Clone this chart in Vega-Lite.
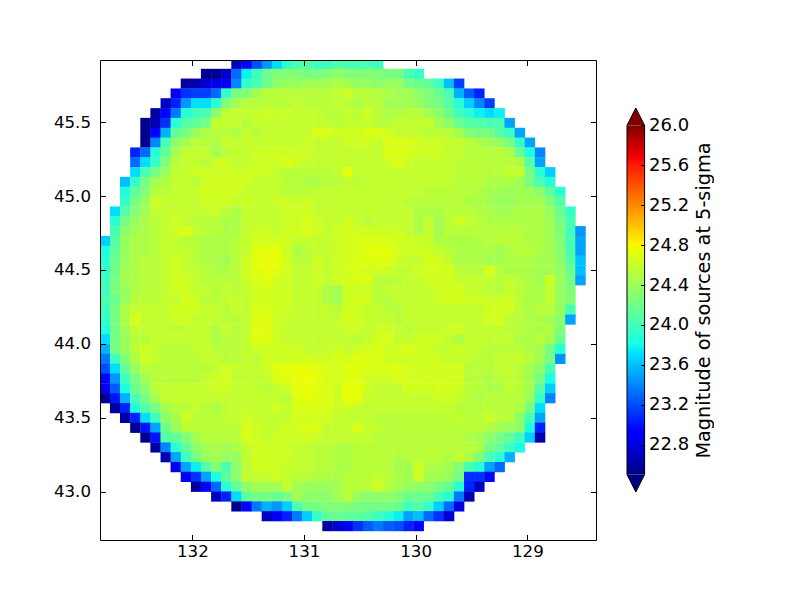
{"$schema":"https://vega.github.io/schema/vega-lite/v6.json","background":"white","padding":{"left":53,"top":59,"right":0,"bottom":0},"spacing":31,"bounds":"flush","center":true,"config":{"font":"DejaVu Sans","view":{"stroke":null},"axis":{"grid":false,"labelFont":"DejaVu Sans","titleFont":"DejaVu Sans","labelFontSize":16.67,"labelColor":"black","domainColor":"black","tickColor":"black","titleColor":"black"}},"datasets":{"cols":[{"c":0,"x":132.782},{"c":1,"x":132.691},{"c":2,"x":132.601},{"c":3,"x":132.51},{"c":4,"x":132.419},{"c":5,"x":132.329},{"c":6,"x":132.238},{"c":7,"x":132.148},{"c":8,"x":132.057},{"c":9,"x":131.966},{"c":10,"x":131.876},{"c":11,"x":131.785},{"c":12,"x":131.695},{"c":13,"x":131.604},{"c":14,"x":131.513},{"c":15,"x":131.423},{"c":16,"x":131.332},{"c":17,"x":131.242},{"c":18,"x":131.151},{"c":19,"x":131.06},{"c":20,"x":130.97},{"c":21,"x":130.879},{"c":22,"x":130.789},{"c":23,"x":130.698},{"c":24,"x":130.607},{"c":25,"x":130.517},{"c":26,"x":130.426},{"c":27,"x":130.336},{"c":28,"x":130.245},{"c":29,"x":130.154},{"c":30,"x":130.064},{"c":31,"x":129.973},{"c":32,"x":129.883},{"c":33,"x":129.792},{"c":34,"x":129.701},{"c":35,"x":129.611},{"c":36,"x":129.52},{"c":37,"x":129.43},{"c":38,"x":129.339},{"c":39,"x":129.248},{"c":40,"x":129.158},{"c":41,"x":129.067},{"c":42,"x":128.977},{"c":43,"x":128.886},{"c":44,"x":128.795},{"c":45,"x":128.705},{"c":46,"x":128.614},{"c":47,"x":128.524}],"rows":[{"r":0,"y":45.893},{"r":1,"y":45.826},{"r":2,"y":45.76},{"r":3,"y":45.693},{"r":4,"y":45.627},{"r":5,"y":45.56},{"r":6,"y":45.494},{"r":7,"y":45.427},{"r":8,"y":45.361},{"r":9,"y":45.294},{"r":10,"y":45.228},{"r":11,"y":45.161},{"r":12,"y":45.095},{"r":13,"y":45.028},{"r":14,"y":44.962},{"r":15,"y":44.895},{"r":16,"y":44.829},{"r":17,"y":44.762},{"r":18,"y":44.696},{"r":19,"y":44.629},{"r":20,"y":44.563},{"r":21,"y":44.496},{"r":22,"y":44.43},{"r":23,"y":44.363},{"r":24,"y":44.297},{"r":25,"y":44.23},{"r":26,"y":44.164},{"r":27,"y":44.097},{"r":28,"y":44.031},{"r":29,"y":43.964},{"r":30,"y":43.898},{"r":31,"y":43.831},{"r":32,"y":43.765},{"r":33,"y":43.698},{"r":34,"y":43.632},{"r":35,"y":43.565},{"r":36,"y":43.499},{"r":37,"y":43.432},{"r":38,"y":43.366},{"r":39,"y":43.299},{"r":40,"y":43.233},{"r":41,"y":43.166},{"r":42,"y":43.1},{"r":43,"y":43.033},{"r":44,"y":42.967},{"r":45,"y":42.9},{"r":46,"y":42.834},{"r":47,"y":42.767}],"cells":[
{"c":13,"r":0,"m":22.7},{"c":14,"r":0,"m":22.95},{"c":15,"r":0,"m":23.2},{"c":16,"r":0,"m":23.45},{"c":17,"r":0,"m":23.7},{"c":18,"r":0,"m":23.9},{"c":19,"r":0,"m":24.0},{"c":20,"r":0,"m":24.05},{"c":21,"r":0,"m":23.95},{"c":22,"r":0,"m":23.95},{"c":23,"r":0,"m":24.05},{"c":24,"r":0,"m":24.0},{"c":25,"r":0,"m":24.0},{"c":26,"r":0,"m":24.0},{"c":27,"r":0,"m":23.95},
{"c":10,"r":1,"m":22.55},{"c":11,"r":1,"m":22.55},{"c":12,"r":1,"m":22.7},{"c":13,"r":1,"m":23.3},{"c":14,"r":1,"m":23.75},{"c":15,"r":1,"m":23.95},{"c":16,"r":1,"m":24.15},{"c":17,"r":1,"m":24.25},{"c":18,"r":1,"m":24.25},{"c":19,"r":1,"m":24.25},{"c":20,"r":1,"m":24.2},{"c":21,"r":1,"m":24.2},{"c":22,"r":1,"m":24.25},{"c":23,"r":1,"m":24.3},{"c":24,"r":1,"m":24.25},{"c":25,"r":1,"m":24.25},{"c":26,"r":1,"m":24.25},{"c":27,"r":1,"m":24.25},{"c":28,"r":1,"m":24.2},{"c":29,"r":1,"m":24.2},{"c":30,"r":1,"m":24.0},{"c":31,"r":1,"m":23.9},
{"c":8,"r":2,"m":22.6},{"c":9,"r":2,"m":22.65},{"c":10,"r":2,"m":22.75},{"c":11,"r":2,"m":22.8},{"c":12,"r":2,"m":22.85},{"c":13,"r":2,"m":23.4},{"c":14,"r":2,"m":23.9},{"c":15,"r":2,"m":24.0},{"c":16,"r":2,"m":24.15},{"c":17,"r":2,"m":24.3},{"c":18,"r":2,"m":24.35},{"c":19,"r":2,"m":24.35},{"c":20,"r":2,"m":24.4},{"c":21,"r":2,"m":24.4},{"c":22,"r":2,"m":24.4},{"c":23,"r":2,"m":24.45},{"c":24,"r":2,"m":24.4},{"c":25,"r":2,"m":24.35},{"c":26,"r":2,"m":24.35},{"c":27,"r":2,"m":24.3},{"c":28,"r":2,"m":24.35},{"c":29,"r":2,"m":24.35},{"c":30,"r":2,"m":24.2},{"c":31,"r":2,"m":24.15},{"c":32,"r":2,"m":24.1},{"c":33,"r":2,"m":23.95},{"c":34,"r":2,"m":23.6},{"c":35,"r":2,"m":23.15},
{"c":7,"r":3,"m":22.85},{"c":8,"r":3,"m":23.1},{"c":9,"r":3,"m":23.15},{"c":10,"r":3,"m":23.15},{"c":11,"r":3,"m":23.3},{"c":12,"r":3,"m":23.9},{"c":13,"r":3,"m":24.2},{"c":14,"r":3,"m":24.25},{"c":15,"r":3,"m":24.4},{"c":16,"r":3,"m":24.5},{"c":17,"r":3,"m":24.5},{"c":18,"r":3,"m":24.5},{"c":19,"r":3,"m":24.5},{"c":20,"r":3,"m":24.5},{"c":21,"r":3,"m":24.5},{"c":22,"r":3,"m":24.5},{"c":23,"r":3,"m":24.55},{"c":24,"r":3,"m":24.6},{"c":25,"r":3,"m":24.5},{"c":26,"r":3,"m":24.5},{"c":27,"r":3,"m":24.5},{"c":28,"r":3,"m":24.45},{"c":29,"r":3,"m":24.4},{"c":30,"r":3,"m":24.4},{"c":31,"r":3,"m":24.3},{"c":32,"r":3,"m":24.25},{"c":33,"r":3,"m":24.15},{"c":34,"r":3,"m":24.0},{"c":35,"r":3,"m":23.55},{"c":36,"r":3,"m":23.25},{"c":37,"r":3,"m":23.05},
{"c":6,"r":4,"m":22.7},{"c":7,"r":4,"m":23.05},{"c":8,"r":4,"m":23.45},{"c":9,"r":4,"m":23.7},{"c":10,"r":4,"m":23.7},{"c":11,"r":4,"m":23.85},{"c":12,"r":4,"m":24.25},{"c":13,"r":4,"m":24.4},{"c":14,"r":4,"m":24.5},{"c":15,"r":4,"m":24.5},{"c":16,"r":4,"m":24.5},{"c":17,"r":4,"m":24.5},{"c":18,"r":4,"m":24.5},{"c":19,"r":4,"m":24.55},{"c":20,"r":4,"m":24.5},{"c":21,"r":4,"m":24.5},{"c":22,"r":4,"m":24.5},{"c":23,"r":4,"m":24.55},{"c":24,"r":4,"m":24.5},{"c":25,"r":4,"m":24.45},{"c":26,"r":4,"m":24.5},{"c":27,"r":4,"m":24.5},{"c":28,"r":4,"m":24.4},{"c":29,"r":4,"m":24.4},{"c":30,"r":4,"m":24.4},{"c":31,"r":4,"m":24.35},{"c":32,"r":4,"m":24.25},{"c":33,"r":4,"m":24.2},{"c":34,"r":4,"m":24.05},{"c":35,"r":4,"m":23.85},{"c":36,"r":4,"m":23.65},{"c":37,"r":4,"m":23.4},{"c":38,"r":4,"m":23.15},
{"c":5,"r":5,"m":22.6},{"c":6,"r":5,"m":22.9},{"c":7,"r":5,"m":23.35},{"c":8,"r":5,"m":23.85},{"c":9,"r":5,"m":23.95},{"c":10,"r":5,"m":24.0},{"c":11,"r":5,"m":24.3},{"c":12,"r":5,"m":24.5},{"c":13,"r":5,"m":24.55},{"c":14,"r":5,"m":24.55},{"c":15,"r":5,"m":24.55},{"c":16,"r":5,"m":24.6},{"c":17,"r":5,"m":24.55},{"c":18,"r":5,"m":24.6},{"c":19,"r":5,"m":24.55},{"c":20,"r":5,"m":24.55},{"c":21,"r":5,"m":24.55},{"c":22,"r":5,"m":24.5},{"c":23,"r":5,"m":24.5},{"c":24,"r":5,"m":24.55},{"c":25,"r":5,"m":24.5},{"c":26,"r":5,"m":24.6},{"c":27,"r":5,"m":24.5},{"c":28,"r":5,"m":24.45},{"c":29,"r":5,"m":24.45},{"c":30,"r":5,"m":24.5},{"c":31,"r":5,"m":24.5},{"c":32,"r":5,"m":24.4},{"c":33,"r":5,"m":24.3},{"c":34,"r":5,"m":24.15},{"c":35,"r":5,"m":23.95},{"c":36,"r":5,"m":23.85},{"c":37,"r":5,"m":23.75},{"c":38,"r":5,"m":23.7},{"c":39,"r":5,"m":23.75},
{"c":4,"r":6,"m":22.55},{"c":5,"r":6,"m":22.65},{"c":6,"r":6,"m":23.1},{"c":7,"r":6,"m":23.85},{"c":8,"r":6,"m":24.05},{"c":9,"r":6,"m":24.1},{"c":10,"r":6,"m":24.2},{"c":11,"r":6,"m":24.55},{"c":12,"r":6,"m":24.55},{"c":13,"r":6,"m":24.55},{"c":14,"r":6,"m":24.5},{"c":15,"r":6,"m":24.55},{"c":16,"r":6,"m":24.55},{"c":17,"r":6,"m":24.55},{"c":18,"r":6,"m":24.55},{"c":19,"r":6,"m":24.55},{"c":20,"r":6,"m":24.55},{"c":21,"r":6,"m":24.55},{"c":22,"r":6,"m":24.55},{"c":23,"r":6,"m":24.5},{"c":24,"r":6,"m":24.55},{"c":25,"r":6,"m":24.55},{"c":26,"r":6,"m":24.55},{"c":27,"r":6,"m":24.5},{"c":28,"r":6,"m":24.5},{"c":29,"r":6,"m":24.55},{"c":30,"r":6,"m":24.55},{"c":31,"r":6,"m":24.55},{"c":32,"r":6,"m":24.55},{"c":33,"r":6,"m":24.4},{"c":34,"r":6,"m":24.3},{"c":35,"r":6,"m":24.15},{"c":36,"r":6,"m":24.05},{"c":37,"r":6,"m":24.05},{"c":38,"r":6,"m":24.0},{"c":39,"r":6,"m":24.0},{"c":40,"r":6,"m":23.5},
{"c":4,"r":7,"m":22.55},{"c":5,"r":7,"m":22.9},{"c":6,"r":7,"m":23.55},{"c":7,"r":7,"m":24.1},{"c":8,"r":7,"m":24.2},{"c":9,"r":7,"m":24.35},{"c":10,"r":7,"m":24.45},{"c":11,"r":7,"m":24.5},{"c":12,"r":7,"m":24.5},{"c":13,"r":7,"m":24.45},{"c":14,"r":7,"m":24.55},{"c":15,"r":7,"m":24.5},{"c":16,"r":7,"m":24.55},{"c":17,"r":7,"m":24.55},{"c":18,"r":7,"m":24.55},{"c":19,"r":7,"m":24.55},{"c":20,"r":7,"m":24.55},{"c":21,"r":7,"m":24.65},{"c":22,"r":7,"m":24.65},{"c":23,"r":7,"m":24.6},{"c":24,"r":7,"m":24.6},{"c":25,"r":7,"m":24.6},{"c":26,"r":7,"m":24.65},{"c":27,"r":7,"m":24.65},{"c":28,"r":7,"m":24.6},{"c":29,"r":7,"m":24.55},{"c":30,"r":7,"m":24.55},{"c":31,"r":7,"m":24.55},{"c":32,"r":7,"m":24.5},{"c":33,"r":7,"m":24.5},{"c":34,"r":7,"m":24.5},{"c":35,"r":7,"m":24.4},{"c":36,"r":7,"m":24.25},{"c":37,"r":7,"m":24.2},{"c":38,"r":7,"m":24.2},{"c":39,"r":7,"m":24.05},{"c":40,"r":7,"m":23.95},{"c":41,"r":7,"m":23.5},
{"c":4,"r":8,"m":22.55},{"c":5,"r":8,"m":23.4},{"c":6,"r":8,"m":24.0},{"c":7,"r":8,"m":24.3},{"c":8,"r":8,"m":24.4},{"c":9,"r":8,"m":24.5},{"c":10,"r":8,"m":24.5},{"c":11,"r":8,"m":24.45},{"c":12,"r":8,"m":24.55},{"c":13,"r":8,"m":24.55},{"c":14,"r":8,"m":24.55},{"c":15,"r":8,"m":24.55},{"c":16,"r":8,"m":24.55},{"c":17,"r":8,"m":24.55},{"c":18,"r":8,"m":24.55},{"c":19,"r":8,"m":24.55},{"c":20,"r":8,"m":24.6},{"c":21,"r":8,"m":24.55},{"c":22,"r":8,"m":24.55},{"c":23,"r":8,"m":24.55},{"c":24,"r":8,"m":24.6},{"c":25,"r":8,"m":24.6},{"c":26,"r":8,"m":24.6},{"c":27,"r":8,"m":24.55},{"c":28,"r":8,"m":24.65},{"c":29,"r":8,"m":24.65},{"c":30,"r":8,"m":24.65},{"c":31,"r":8,"m":24.6},{"c":32,"r":8,"m":24.6},{"c":33,"r":8,"m":24.6},{"c":34,"r":8,"m":24.55},{"c":35,"r":8,"m":24.55},{"c":36,"r":8,"m":24.5},{"c":37,"r":8,"m":24.45},{"c":38,"r":8,"m":24.4},{"c":39,"r":8,"m":24.35},{"c":40,"r":8,"m":24.2},{"c":41,"r":8,"m":23.9},{"c":42,"r":8,"m":23.5},
{"c":3,"r":9,"m":23.05},{"c":4,"r":9,"m":23.3},{"c":5,"r":9,"m":23.85},{"c":6,"r":9,"m":24.1},{"c":7,"r":9,"m":24.4},{"c":8,"r":9,"m":24.55},{"c":9,"r":9,"m":24.55},{"c":10,"r":9,"m":24.55},{"c":11,"r":9,"m":24.4},{"c":12,"r":9,"m":24.5},{"c":13,"r":9,"m":24.55},{"c":14,"r":9,"m":24.55},{"c":15,"r":9,"m":24.6},{"c":16,"r":9,"m":24.6},{"c":17,"r":9,"m":24.6},{"c":18,"r":9,"m":24.6},{"c":19,"r":9,"m":24.6},{"c":20,"r":9,"m":24.6},{"c":21,"r":9,"m":24.55},{"c":22,"r":9,"m":24.55},{"c":23,"r":9,"m":24.55},{"c":24,"r":9,"m":24.55},{"c":25,"r":9,"m":24.55},{"c":26,"r":9,"m":24.55},{"c":27,"r":9,"m":24.55},{"c":28,"r":9,"m":24.65},{"c":29,"r":9,"m":24.65},{"c":30,"r":9,"m":24.65},{"c":31,"r":9,"m":24.6},{"c":32,"r":9,"m":24.6},{"c":33,"r":9,"m":24.6},{"c":34,"r":9,"m":24.55},{"c":35,"r":9,"m":24.55},{"c":36,"r":9,"m":24.5},{"c":37,"r":9,"m":24.5},{"c":38,"r":9,"m":24.5},{"c":39,"r":9,"m":24.5},{"c":40,"r":9,"m":24.45},{"c":41,"r":9,"m":24.15},{"c":42,"r":9,"m":23.8},{"c":43,"r":9,"m":23.4},
{"c":3,"r":10,"m":23.3},{"c":4,"r":10,"m":23.7},{"c":5,"r":10,"m":23.9},{"c":6,"r":10,"m":24.25},{"c":7,"r":10,"m":24.5},{"c":8,"r":10,"m":24.55},{"c":9,"r":10,"m":24.55},{"c":10,"r":10,"m":24.5},{"c":11,"r":10,"m":24.6},{"c":12,"r":10,"m":24.6},{"c":13,"r":10,"m":24.55},{"c":14,"r":10,"m":24.55},{"c":15,"r":10,"m":24.6},{"c":16,"r":10,"m":24.6},{"c":17,"r":10,"m":24.6},{"c":18,"r":10,"m":24.65},{"c":19,"r":10,"m":24.6},{"c":20,"r":10,"m":24.55},{"c":21,"r":10,"m":24.55},{"c":22,"r":10,"m":24.55},{"c":23,"r":10,"m":24.55},{"c":24,"r":10,"m":24.55},{"c":25,"r":10,"m":24.55},{"c":26,"r":10,"m":24.55},{"c":27,"r":10,"m":24.55},{"c":28,"r":10,"m":24.6},{"c":29,"r":10,"m":24.65},{"c":30,"r":10,"m":24.6},{"c":31,"r":10,"m":24.55},{"c":32,"r":10,"m":24.55},{"c":33,"r":10,"m":24.55},{"c":34,"r":10,"m":24.55},{"c":35,"r":10,"m":24.5},{"c":36,"r":10,"m":24.5},{"c":37,"r":10,"m":24.5},{"c":38,"r":10,"m":24.5},{"c":39,"r":10,"m":24.5},{"c":40,"r":10,"m":24.5},{"c":41,"r":10,"m":24.45},{"c":42,"r":10,"m":24.05},{"c":43,"r":10,"m":23.5},
{"c":3,"r":11,"m":23.7},{"c":4,"r":11,"m":24.0},{"c":5,"r":11,"m":24.2},{"c":6,"r":11,"m":24.35},{"c":7,"r":11,"m":24.55},{"c":8,"r":11,"m":24.55},{"c":9,"r":11,"m":24.6},{"c":10,"r":11,"m":24.6},{"c":11,"r":11,"m":24.6},{"c":12,"r":11,"m":24.6},{"c":13,"r":11,"m":24.6},{"c":14,"r":11,"m":24.6},{"c":15,"r":11,"m":24.6},{"c":16,"r":11,"m":24.6},{"c":17,"r":11,"m":24.55},{"c":18,"r":11,"m":24.5},{"c":19,"r":11,"m":24.5},{"c":20,"r":11,"m":24.5},{"c":21,"r":11,"m":24.5},{"c":22,"r":11,"m":24.5},{"c":23,"r":11,"m":24.55},{"c":24,"r":11,"m":24.7},{"c":25,"r":11,"m":24.55},{"c":26,"r":11,"m":24.55},{"c":27,"r":11,"m":24.55},{"c":28,"r":11,"m":24.55},{"c":29,"r":11,"m":24.55},{"c":30,"r":11,"m":24.55},{"c":31,"r":11,"m":24.55},{"c":32,"r":11,"m":24.55},{"c":33,"r":11,"m":24.55},{"c":34,"r":11,"m":24.55},{"c":35,"r":11,"m":24.5},{"c":36,"r":11,"m":24.5},{"c":37,"r":11,"m":24.5},{"c":38,"r":11,"m":24.5},{"c":39,"r":11,"m":24.5},{"c":40,"r":11,"m":24.55},{"c":41,"r":11,"m":24.55},{"c":42,"r":11,"m":24.2},{"c":43,"r":11,"m":23.85},{"c":44,"r":11,"m":23.65},
{"c":2,"r":12,"m":23.6},{"c":3,"r":12,"m":23.9},{"c":4,"r":12,"m":24.2},{"c":5,"r":12,"m":24.4},{"c":6,"r":12,"m":24.45},{"c":7,"r":12,"m":24.55},{"c":8,"r":12,"m":24.55},{"c":9,"r":12,"m":24.5},{"c":10,"r":12,"m":24.6},{"c":11,"r":12,"m":24.6},{"c":12,"r":12,"m":24.62},{"c":13,"r":12,"m":24.62},{"c":14,"r":12,"m":24.6},{"c":15,"r":12,"m":24.55},{"c":16,"r":12,"m":24.55},{"c":17,"r":12,"m":24.55},{"c":18,"r":12,"m":24.5},{"c":19,"r":12,"m":24.5},{"c":20,"r":12,"m":24.45},{"c":21,"r":12,"m":24.45},{"c":22,"r":12,"m":24.5},{"c":23,"r":12,"m":24.5},{"c":24,"r":12,"m":24.55},{"c":25,"r":12,"m":24.5},{"c":26,"r":12,"m":24.55},{"c":27,"r":12,"m":24.55},{"c":28,"r":12,"m":24.55},{"c":29,"r":12,"m":24.55},{"c":30,"r":12,"m":24.55},{"c":31,"r":12,"m":24.55},{"c":32,"r":12,"m":24.55},{"c":33,"r":12,"m":24.55},{"c":34,"r":12,"m":24.55},{"c":35,"r":12,"m":24.5},{"c":36,"r":12,"m":24.5},{"c":37,"r":12,"m":24.5},{"c":38,"r":12,"m":24.45},{"c":39,"r":12,"m":24.45},{"c":40,"r":12,"m":24.45},{"c":41,"r":12,"m":24.4},{"c":42,"r":12,"m":24.2},{"c":43,"r":12,"m":24.0},{"c":44,"r":12,"m":23.85},
{"c":2,"r":13,"m":23.8},{"c":3,"r":13,"m":24.1},{"c":4,"r":13,"m":24.25},{"c":5,"r":13,"m":24.5},{"c":6,"r":13,"m":24.5},{"c":7,"r":13,"m":24.55},{"c":8,"r":13,"m":24.55},{"c":9,"r":13,"m":24.55},{"c":10,"r":13,"m":24.62},{"c":11,"r":13,"m":24.62},{"c":12,"r":13,"m":24.62},{"c":13,"r":13,"m":24.6},{"c":14,"r":13,"m":24.55},{"c":15,"r":13,"m":24.55},{"c":16,"r":13,"m":24.55},{"c":17,"r":13,"m":24.55},{"c":18,"r":13,"m":24.5},{"c":19,"r":13,"m":24.5},{"c":20,"r":13,"m":24.5},{"c":21,"r":13,"m":24.55},{"c":22,"r":13,"m":24.55},{"c":23,"r":13,"m":24.55},{"c":24,"r":13,"m":24.55},{"c":25,"r":13,"m":24.55},{"c":26,"r":13,"m":24.55},{"c":27,"r":13,"m":24.55},{"c":28,"r":13,"m":24.55},{"c":29,"r":13,"m":24.55},{"c":30,"r":13,"m":24.55},{"c":31,"r":13,"m":24.55},{"c":32,"r":13,"m":24.5},{"c":33,"r":13,"m":24.5},{"c":34,"r":13,"m":24.5},{"c":35,"r":13,"m":24.5},{"c":36,"r":13,"m":24.5},{"c":37,"r":13,"m":24.45},{"c":38,"r":13,"m":24.4},{"c":39,"r":13,"m":24.4},{"c":40,"r":13,"m":24.35},{"c":41,"r":13,"m":24.4},{"c":42,"r":13,"m":24.35},{"c":43,"r":13,"m":24.3},{"c":44,"r":13,"m":24.1},{"c":45,"r":13,"m":23.85},
{"c":2,"r":14,"m":23.9},{"c":3,"r":14,"m":24.2},{"c":4,"r":14,"m":24.35},{"c":5,"r":14,"m":24.6},{"c":6,"r":14,"m":24.55},{"c":7,"r":14,"m":24.55},{"c":8,"r":14,"m":24.55},{"c":9,"r":14,"m":24.55},{"c":10,"r":14,"m":24.6},{"c":11,"r":14,"m":24.6},{"c":12,"r":14,"m":24.62},{"c":13,"r":14,"m":24.55},{"c":14,"r":14,"m":24.6},{"c":15,"r":14,"m":24.55},{"c":16,"r":14,"m":24.55},{"c":17,"r":14,"m":24.6},{"c":18,"r":14,"m":24.6},{"c":19,"r":14,"m":24.55},{"c":20,"r":14,"m":24.6},{"c":21,"r":14,"m":24.55},{"c":22,"r":14,"m":24.55},{"c":23,"r":14,"m":24.55},{"c":24,"r":14,"m":24.55},{"c":25,"r":14,"m":24.55},{"c":26,"r":14,"m":24.55},{"c":27,"r":14,"m":24.55},{"c":28,"r":14,"m":24.55},{"c":29,"r":14,"m":24.55},{"c":30,"r":14,"m":24.5},{"c":31,"r":14,"m":24.5},{"c":32,"r":14,"m":24.5},{"c":33,"r":14,"m":24.5},{"c":34,"r":14,"m":24.5},{"c":35,"r":14,"m":24.5},{"c":36,"r":14,"m":24.45},{"c":37,"r":14,"m":24.45},{"c":38,"r":14,"m":24.4},{"c":39,"r":14,"m":24.35},{"c":40,"r":14,"m":24.35},{"c":41,"r":14,"m":24.4},{"c":42,"r":14,"m":24.4},{"c":43,"r":14,"m":24.4},{"c":44,"r":14,"m":24.25},{"c":45,"r":14,"m":24.05},
{"c":1,"r":15,"m":23.7},{"c":2,"r":15,"m":24.05},{"c":3,"r":15,"m":24.25},{"c":4,"r":15,"m":24.4},{"c":5,"r":15,"m":24.55},{"c":6,"r":15,"m":24.55},{"c":7,"r":15,"m":24.55},{"c":8,"r":15,"m":24.55},{"c":9,"r":15,"m":24.55},{"c":10,"r":15,"m":24.55},{"c":11,"r":15,"m":24.6},{"c":12,"r":15,"m":24.5},{"c":13,"r":15,"m":24.45},{"c":14,"r":15,"m":24.55},{"c":15,"r":15,"m":24.55},{"c":16,"r":15,"m":24.55},{"c":17,"r":15,"m":24.55},{"c":18,"r":15,"m":24.6},{"c":19,"r":15,"m":24.6},{"c":20,"r":15,"m":24.6},{"c":21,"r":15,"m":24.55},{"c":22,"r":15,"m":24.55},{"c":23,"r":15,"m":24.55},{"c":24,"r":15,"m":24.55},{"c":25,"r":15,"m":24.55},{"c":26,"r":15,"m":24.55},{"c":27,"r":15,"m":24.55},{"c":28,"r":15,"m":24.55},{"c":29,"r":15,"m":24.55},{"c":30,"r":15,"m":24.55},{"c":31,"r":15,"m":24.45},{"c":32,"r":15,"m":24.45},{"c":33,"r":15,"m":24.45},{"c":34,"r":15,"m":24.5},{"c":35,"r":15,"m":24.5},{"c":36,"r":15,"m":24.5},{"c":37,"r":15,"m":24.45},{"c":38,"r":15,"m":24.45},{"c":39,"r":15,"m":24.4},{"c":40,"r":15,"m":24.4},{"c":41,"r":15,"m":24.45},{"c":42,"r":15,"m":24.45},{"c":43,"r":15,"m":24.45},{"c":44,"r":15,"m":24.35},{"c":45,"r":15,"m":24.15},{"c":46,"r":15,"m":23.9},
{"c":1,"r":16,"m":23.85},{"c":2,"r":16,"m":24.2},{"c":3,"r":16,"m":24.35},{"c":4,"r":16,"m":24.45},{"c":5,"r":16,"m":24.5},{"c":6,"r":16,"m":24.55},{"c":7,"r":16,"m":24.6},{"c":8,"r":16,"m":24.55},{"c":9,"r":16,"m":24.5},{"c":10,"r":16,"m":24.5},{"c":11,"r":16,"m":24.5},{"c":12,"r":16,"m":24.45},{"c":13,"r":16,"m":24.45},{"c":14,"r":16,"m":24.55},{"c":15,"r":16,"m":24.55},{"c":16,"r":16,"m":24.55},{"c":17,"r":16,"m":24.55},{"c":18,"r":16,"m":24.6},{"c":19,"r":16,"m":24.6},{"c":20,"r":16,"m":24.65},{"c":21,"r":16,"m":24.6},{"c":22,"r":16,"m":24.55},{"c":23,"r":16,"m":24.55},{"c":24,"r":16,"m":24.62},{"c":25,"r":16,"m":24.55},{"c":26,"r":16,"m":24.5},{"c":27,"r":16,"m":24.55},{"c":28,"r":16,"m":24.55},{"c":29,"r":16,"m":24.55},{"c":30,"r":16,"m":24.55},{"c":31,"r":16,"m":24.45},{"c":32,"r":16,"m":24.55},{"c":33,"r":16,"m":24.4},{"c":34,"r":16,"m":24.5},{"c":35,"r":16,"m":24.6},{"c":36,"r":16,"m":24.55},{"c":37,"r":16,"m":24.5},{"c":38,"r":16,"m":24.45},{"c":39,"r":16,"m":24.45},{"c":40,"r":16,"m":24.45},{"c":41,"r":16,"m":24.45},{"c":42,"r":16,"m":24.45},{"c":43,"r":16,"m":24.45},{"c":44,"r":16,"m":24.4},{"c":45,"r":16,"m":24.2},{"c":46,"r":16,"m":24.0},
{"c":1,"r":17,"m":24.0},{"c":2,"r":17,"m":24.3},{"c":3,"r":17,"m":24.4},{"c":4,"r":17,"m":24.45},{"c":5,"r":17,"m":24.5},{"c":6,"r":17,"m":24.55},{"c":7,"r":17,"m":24.6},{"c":8,"r":17,"m":24.65},{"c":9,"r":17,"m":24.55},{"c":10,"r":17,"m":24.5},{"c":11,"r":17,"m":24.5},{"c":12,"r":17,"m":24.45},{"c":13,"r":17,"m":24.45},{"c":14,"r":17,"m":24.55},{"c":15,"r":17,"m":24.6},{"c":16,"r":17,"m":24.6},{"c":17,"r":17,"m":24.55},{"c":18,"r":17,"m":24.6},{"c":19,"r":17,"m":24.6},{"c":20,"r":17,"m":24.65},{"c":21,"r":17,"m":24.6},{"c":22,"r":17,"m":24.55},{"c":23,"r":17,"m":24.6},{"c":24,"r":17,"m":24.62},{"c":25,"r":17,"m":24.62},{"c":26,"r":17,"m":24.6},{"c":27,"r":17,"m":24.6},{"c":28,"r":17,"m":24.6},{"c":29,"r":17,"m":24.6},{"c":30,"r":17,"m":24.55},{"c":31,"r":17,"m":24.45},{"c":32,"r":17,"m":24.55},{"c":33,"r":17,"m":24.4},{"c":34,"r":17,"m":24.5},{"c":35,"r":17,"m":24.5},{"c":36,"r":17,"m":24.5},{"c":37,"r":17,"m":24.5},{"c":38,"r":17,"m":24.5},{"c":39,"r":17,"m":24.5},{"c":40,"r":17,"m":24.5},{"c":41,"r":17,"m":24.5},{"c":42,"r":17,"m":24.45},{"c":43,"r":17,"m":24.45},{"c":44,"r":17,"m":24.4},{"c":45,"r":17,"m":24.25},{"c":46,"r":17,"m":23.95},{"c":47,"r":17,"m":23.45},
{"c":0,"r":18,"m":23.65},{"c":1,"r":18,"m":24.05},{"c":2,"r":18,"m":24.35},{"c":3,"r":18,"m":24.45},{"c":4,"r":18,"m":24.45},{"c":5,"r":18,"m":24.5},{"c":6,"r":18,"m":24.55},{"c":7,"r":18,"m":24.55},{"c":8,"r":18,"m":24.5},{"c":9,"r":18,"m":24.5},{"c":10,"r":18,"m":24.45},{"c":11,"r":18,"m":24.45},{"c":12,"r":18,"m":24.45},{"c":13,"r":18,"m":24.5},{"c":14,"r":18,"m":24.55},{"c":15,"r":18,"m":24.62},{"c":16,"r":18,"m":24.62},{"c":17,"r":18,"m":24.62},{"c":18,"r":18,"m":24.6},{"c":19,"r":18,"m":24.55},{"c":20,"r":18,"m":24.55},{"c":21,"r":18,"m":24.55},{"c":22,"r":18,"m":24.55},{"c":23,"r":18,"m":24.6},{"c":24,"r":18,"m":24.62},{"c":25,"r":18,"m":24.65},{"c":26,"r":18,"m":24.65},{"c":27,"r":18,"m":24.65},{"c":28,"r":18,"m":24.65},{"c":29,"r":18,"m":24.62},{"c":30,"r":18,"m":24.6},{"c":31,"r":18,"m":24.6},{"c":32,"r":18,"m":24.55},{"c":33,"r":18,"m":24.45},{"c":34,"r":18,"m":24.45},{"c":35,"r":18,"m":24.45},{"c":36,"r":18,"m":24.45},{"c":37,"r":18,"m":24.45},{"c":38,"r":18,"m":24.5},{"c":39,"r":18,"m":24.5},{"c":40,"r":18,"m":24.5},{"c":41,"r":18,"m":24.5},{"c":42,"r":18,"m":24.45},{"c":43,"r":18,"m":24.45},{"c":44,"r":18,"m":24.4},{"c":45,"r":18,"m":24.25},{"c":46,"r":18,"m":24.0},{"c":47,"r":18,"m":23.5},
{"c":0,"r":19,"m":23.8},{"c":1,"r":19,"m":24.1},{"c":2,"r":19,"m":24.35},{"c":3,"r":19,"m":24.45},{"c":4,"r":19,"m":24.45},{"c":5,"r":19,"m":24.5},{"c":6,"r":19,"m":24.55},{"c":7,"r":19,"m":24.55},{"c":8,"r":19,"m":24.55},{"c":9,"r":19,"m":24.5},{"c":10,"r":19,"m":24.45},{"c":11,"r":19,"m":24.45},{"c":12,"r":19,"m":24.45},{"c":13,"r":19,"m":24.5},{"c":14,"r":19,"m":24.55},{"c":15,"r":19,"m":24.68},{"c":16,"r":19,"m":24.7},{"c":17,"r":19,"m":24.7},{"c":18,"r":19,"m":24.6},{"c":19,"r":19,"m":24.45},{"c":20,"r":19,"m":24.5},{"c":21,"r":19,"m":24.55},{"c":22,"r":19,"m":24.55},{"c":23,"r":19,"m":24.6},{"c":24,"r":19,"m":24.62},{"c":25,"r":19,"m":24.65},{"c":26,"r":19,"m":24.68},{"c":27,"r":19,"m":24.72},{"c":28,"r":19,"m":24.7},{"c":29,"r":19,"m":24.62},{"c":30,"r":19,"m":24.6},{"c":31,"r":19,"m":24.6},{"c":32,"r":19,"m":24.6},{"c":33,"r":19,"m":24.55},{"c":34,"r":19,"m":24.5},{"c":35,"r":19,"m":24.45},{"c":36,"r":19,"m":24.45},{"c":37,"r":19,"m":24.45},{"c":38,"r":19,"m":24.45},{"c":39,"r":19,"m":24.4},{"c":40,"r":19,"m":24.45},{"c":41,"r":19,"m":24.5},{"c":42,"r":19,"m":24.5},{"c":43,"r":19,"m":24.45},{"c":44,"r":19,"m":24.4},{"c":45,"r":19,"m":24.3},{"c":46,"r":19,"m":24.0},{"c":47,"r":19,"m":23.5},
{"c":0,"r":20,"m":23.85},{"c":1,"r":20,"m":24.15},{"c":2,"r":20,"m":24.35},{"c":3,"r":20,"m":24.45},{"c":4,"r":20,"m":24.5},{"c":5,"r":20,"m":24.5},{"c":6,"r":20,"m":24.55},{"c":7,"r":20,"m":24.6},{"c":8,"r":20,"m":24.55},{"c":9,"r":20,"m":24.5},{"c":10,"r":20,"m":24.45},{"c":11,"r":20,"m":24.45},{"c":12,"r":20,"m":24.4},{"c":13,"r":20,"m":24.5},{"c":14,"r":20,"m":24.6},{"c":15,"r":20,"m":24.7},{"c":16,"r":20,"m":24.72},{"c":17,"r":20,"m":24.72},{"c":18,"r":20,"m":24.62},{"c":19,"r":20,"m":24.5},{"c":20,"r":20,"m":24.5},{"c":21,"r":20,"m":24.6},{"c":22,"r":20,"m":24.55},{"c":23,"r":20,"m":24.6},{"c":24,"r":20,"m":24.62},{"c":25,"r":20,"m":24.65},{"c":26,"r":20,"m":24.68},{"c":27,"r":20,"m":24.68},{"c":28,"r":20,"m":24.68},{"c":29,"r":20,"m":24.6},{"c":30,"r":20,"m":24.55},{"c":31,"r":20,"m":24.55},{"c":32,"r":20,"m":24.62},{"c":33,"r":20,"m":24.62},{"c":34,"r":20,"m":24.55},{"c":35,"r":20,"m":24.45},{"c":36,"r":20,"m":24.45},{"c":37,"r":20,"m":24.45},{"c":38,"r":20,"m":24.4},{"c":39,"r":20,"m":24.4},{"c":40,"r":20,"m":24.45},{"c":41,"r":20,"m":24.45},{"c":42,"r":20,"m":24.45},{"c":43,"r":20,"m":24.4},{"c":44,"r":20,"m":24.4},{"c":45,"r":20,"m":24.3},{"c":46,"r":20,"m":24.05},{"c":47,"r":20,"m":23.6},
{"c":0,"r":21,"m":23.9},{"c":1,"r":21,"m":24.15},{"c":2,"r":21,"m":24.4},{"c":3,"r":21,"m":24.45},{"c":4,"r":21,"m":24.5},{"c":5,"r":21,"m":24.5},{"c":6,"r":21,"m":24.55},{"c":7,"r":21,"m":24.62},{"c":8,"r":21,"m":24.55},{"c":9,"r":21,"m":24.55},{"c":10,"r":21,"m":24.5},{"c":11,"r":21,"m":24.45},{"c":12,"r":21,"m":24.45},{"c":13,"r":21,"m":24.5},{"c":14,"r":21,"m":24.6},{"c":15,"r":21,"m":24.68},{"c":16,"r":21,"m":24.72},{"c":17,"r":21,"m":24.68},{"c":18,"r":21,"m":24.62},{"c":19,"r":21,"m":24.55},{"c":20,"r":21,"m":24.55},{"c":21,"r":21,"m":24.6},{"c":22,"r":21,"m":24.55},{"c":23,"r":21,"m":24.6},{"c":24,"r":21,"m":24.62},{"c":25,"r":21,"m":24.65},{"c":26,"r":21,"m":24.62},{"c":27,"r":21,"m":24.62},{"c":28,"r":21,"m":24.6},{"c":29,"r":21,"m":24.55},{"c":30,"r":21,"m":24.55},{"c":31,"r":21,"m":24.6},{"c":32,"r":21,"m":24.62},{"c":33,"r":21,"m":24.62},{"c":34,"r":21,"m":24.62},{"c":35,"r":21,"m":24.5},{"c":36,"r":21,"m":24.5},{"c":37,"r":21,"m":24.5},{"c":38,"r":21,"m":24.65},{"c":39,"r":21,"m":24.5},{"c":40,"r":21,"m":24.45},{"c":41,"r":21,"m":24.45},{"c":42,"r":21,"m":24.45},{"c":43,"r":21,"m":24.4},{"c":44,"r":21,"m":24.4},{"c":45,"r":21,"m":24.35},{"c":46,"r":21,"m":24.15},{"c":47,"r":21,"m":23.6},
{"c":0,"r":22,"m":23.95},{"c":1,"r":22,"m":24.2},{"c":2,"r":22,"m":24.4},{"c":3,"r":22,"m":24.45},{"c":4,"r":22,"m":24.5},{"c":5,"r":22,"m":24.5},{"c":6,"r":22,"m":24.55},{"c":7,"r":22,"m":24.6},{"c":8,"r":22,"m":24.6},{"c":9,"r":22,"m":24.55},{"c":10,"r":22,"m":24.5},{"c":11,"r":22,"m":24.5},{"c":12,"r":22,"m":24.5},{"c":13,"r":22,"m":24.5},{"c":14,"r":22,"m":24.6},{"c":15,"r":22,"m":24.65},{"c":16,"r":22,"m":24.68},{"c":17,"r":22,"m":24.62},{"c":18,"r":22,"m":24.6},{"c":19,"r":22,"m":24.55},{"c":20,"r":22,"m":24.55},{"c":21,"r":22,"m":24.6},{"c":22,"r":22,"m":24.55},{"c":23,"r":22,"m":24.6},{"c":24,"r":22,"m":24.62},{"c":25,"r":22,"m":24.65},{"c":26,"r":22,"m":24.65},{"c":27,"r":22,"m":24.5},{"c":28,"r":22,"m":24.5},{"c":29,"r":22,"m":24.5},{"c":30,"r":22,"m":24.55},{"c":31,"r":22,"m":24.55},{"c":32,"r":22,"m":24.6},{"c":33,"r":22,"m":24.62},{"c":34,"r":22,"m":24.62},{"c":35,"r":22,"m":24.55},{"c":36,"r":22,"m":24.55},{"c":37,"r":22,"m":24.55},{"c":38,"r":22,"m":24.55},{"c":39,"r":22,"m":24.5},{"c":40,"r":22,"m":24.55},{"c":41,"r":22,"m":24.5},{"c":42,"r":22,"m":24.45},{"c":43,"r":22,"m":24.4},{"c":44,"r":22,"m":24.6},{"c":45,"r":22,"m":24.35},{"c":46,"r":22,"m":24.2},{"c":47,"r":22,"m":23.5},
{"c":0,"r":23,"m":23.95},{"c":1,"r":23,"m":24.2},{"c":2,"r":23,"m":24.35},{"c":3,"r":23,"m":24.45},{"c":4,"r":23,"m":24.5},{"c":5,"r":23,"m":24.5},{"c":6,"r":23,"m":24.55},{"c":7,"r":23,"m":24.6},{"c":8,"r":23,"m":24.6},{"c":9,"r":23,"m":24.55},{"c":10,"r":23,"m":24.55},{"c":11,"r":23,"m":24.5},{"c":12,"r":23,"m":24.55},{"c":13,"r":23,"m":24.5},{"c":14,"r":23,"m":24.55},{"c":15,"r":23,"m":24.6},{"c":16,"r":23,"m":24.62},{"c":17,"r":23,"m":24.6},{"c":18,"r":23,"m":24.6},{"c":19,"r":23,"m":24.55},{"c":20,"r":23,"m":24.55},{"c":21,"r":23,"m":24.55},{"c":22,"r":23,"m":24.45},{"c":23,"r":23,"m":24.4},{"c":24,"r":23,"m":24.6},{"c":25,"r":23,"m":24.6},{"c":26,"r":23,"m":24.6},{"c":27,"r":23,"m":24.5},{"c":28,"r":23,"m":24.55},{"c":29,"r":23,"m":24.55},{"c":30,"r":23,"m":24.55},{"c":31,"r":23,"m":24.55},{"c":32,"r":23,"m":24.55},{"c":33,"r":23,"m":24.6},{"c":34,"r":23,"m":24.62},{"c":35,"r":23,"m":24.62},{"c":36,"r":23,"m":24.55},{"c":37,"r":23,"m":24.55},{"c":38,"r":23,"m":24.5},{"c":39,"r":23,"m":24.5},{"c":40,"r":23,"m":24.55},{"c":41,"r":23,"m":24.5},{"c":42,"r":23,"m":24.45},{"c":43,"r":23,"m":24.45},{"c":44,"r":23,"m":24.55},{"c":45,"r":23,"m":24.35},{"c":46,"r":23,"m":24.25},
{"c":0,"r":24,"m":24.0},{"c":1,"r":24,"m":24.15},{"c":2,"r":24,"m":24.35},{"c":3,"r":24,"m":24.5},{"c":4,"r":24,"m":24.5},{"c":5,"r":24,"m":24.5},{"c":6,"r":24,"m":24.55},{"c":7,"r":24,"m":24.55},{"c":8,"r":24,"m":24.62},{"c":9,"r":24,"m":24.6},{"c":10,"r":24,"m":24.5},{"c":11,"r":24,"m":24.5},{"c":12,"r":24,"m":24.55},{"c":13,"r":24,"m":24.55},{"c":14,"r":24,"m":24.55},{"c":15,"r":24,"m":24.62},{"c":16,"r":24,"m":24.62},{"c":17,"r":24,"m":24.62},{"c":18,"r":24,"m":24.6},{"c":19,"r":24,"m":24.55},{"c":20,"r":24,"m":24.55},{"c":21,"r":24,"m":24.55},{"c":22,"r":24,"m":24.45},{"c":23,"r":24,"m":24.4},{"c":24,"r":24,"m":24.6},{"c":25,"r":24,"m":24.62},{"c":26,"r":24,"m":24.62},{"c":27,"r":24,"m":24.5},{"c":28,"r":24,"m":24.5},{"c":29,"r":24,"m":24.55},{"c":30,"r":24,"m":24.55},{"c":31,"r":24,"m":24.55},{"c":32,"r":24,"m":24.55},{"c":33,"r":24,"m":24.6},{"c":34,"r":24,"m":24.62},{"c":35,"r":24,"m":24.62},{"c":36,"r":24,"m":24.6},{"c":37,"r":24,"m":24.6},{"c":38,"r":24,"m":24.6},{"c":39,"r":24,"m":24.6},{"c":40,"r":24,"m":24.6},{"c":41,"r":24,"m":24.5},{"c":42,"r":24,"m":24.45},{"c":43,"r":24,"m":24.45},{"c":44,"r":24,"m":24.55},{"c":45,"r":24,"m":24.35},{"c":46,"r":24,"m":24.25},
{"c":0,"r":25,"m":23.95},{"c":1,"r":25,"m":24.2},{"c":2,"r":25,"m":24.45},{"c":3,"r":25,"m":24.55},{"c":4,"r":25,"m":24.55},{"c":5,"r":25,"m":24.55},{"c":6,"r":25,"m":24.55},{"c":7,"r":25,"m":24.6},{"c":8,"r":25,"m":24.62},{"c":9,"r":25,"m":24.6},{"c":10,"r":25,"m":24.55},{"c":11,"r":25,"m":24.55},{"c":12,"r":25,"m":24.5},{"c":13,"r":25,"m":24.55},{"c":14,"r":25,"m":24.55},{"c":15,"r":25,"m":24.65},{"c":16,"r":25,"m":24.65},{"c":17,"r":25,"m":24.6},{"c":18,"r":25,"m":24.6},{"c":19,"r":25,"m":24.55},{"c":20,"r":25,"m":24.55},{"c":21,"r":25,"m":24.55},{"c":22,"r":25,"m":24.55},{"c":23,"r":25,"m":24.5},{"c":24,"r":25,"m":24.62},{"c":25,"r":25,"m":24.6},{"c":26,"r":25,"m":24.55},{"c":27,"r":25,"m":24.55},{"c":28,"r":25,"m":24.5},{"c":29,"r":25,"m":24.5},{"c":30,"r":25,"m":24.55},{"c":31,"r":25,"m":24.55},{"c":32,"r":25,"m":24.55},{"c":33,"r":25,"m":24.55},{"c":34,"r":25,"m":24.55},{"c":35,"r":25,"m":24.55},{"c":36,"r":25,"m":24.55},{"c":37,"r":25,"m":24.55},{"c":38,"r":25,"m":24.6},{"c":39,"r":25,"m":24.62},{"c":40,"r":25,"m":24.62},{"c":41,"r":25,"m":24.5},{"c":42,"r":25,"m":24.45},{"c":43,"r":25,"m":24.5},{"c":44,"r":25,"m":24.5},{"c":45,"r":25,"m":24.35},{"c":46,"r":25,"m":24.0},
{"c":0,"r":26,"m":23.9},{"c":1,"r":26,"m":24.2},{"c":2,"r":26,"m":24.45},{"c":3,"r":26,"m":24.65},{"c":4,"r":26,"m":24.55},{"c":5,"r":26,"m":24.55},{"c":6,"r":26,"m":24.55},{"c":7,"r":26,"m":24.6},{"c":8,"r":26,"m":24.6},{"c":9,"r":26,"m":24.55},{"c":10,"r":26,"m":24.55},{"c":11,"r":26,"m":24.55},{"c":12,"r":26,"m":24.5},{"c":13,"r":26,"m":24.5},{"c":14,"r":26,"m":24.55},{"c":15,"r":26,"m":24.65},{"c":16,"r":26,"m":24.68},{"c":17,"r":26,"m":24.6},{"c":18,"r":26,"m":24.55},{"c":19,"r":26,"m":24.55},{"c":20,"r":26,"m":24.55},{"c":21,"r":26,"m":24.55},{"c":22,"r":26,"m":24.55},{"c":23,"r":26,"m":24.55},{"c":24,"r":26,"m":24.62},{"c":25,"r":26,"m":24.6},{"c":26,"r":26,"m":24.55},{"c":27,"r":26,"m":24.55},{"c":28,"r":26,"m":24.55},{"c":29,"r":26,"m":24.5},{"c":30,"r":26,"m":24.55},{"c":31,"r":26,"m":24.55},{"c":32,"r":26,"m":24.55},{"c":33,"r":26,"m":24.55},{"c":34,"r":26,"m":24.55},{"c":35,"r":26,"m":24.55},{"c":36,"r":26,"m":24.55},{"c":37,"r":26,"m":24.55},{"c":38,"r":26,"m":24.62},{"c":39,"r":26,"m":24.62},{"c":40,"r":26,"m":24.5},{"c":41,"r":26,"m":24.5},{"c":42,"r":26,"m":24.45},{"c":43,"r":26,"m":24.45},{"c":44,"r":26,"m":24.4},{"c":45,"r":26,"m":24.3},{"c":46,"r":26,"m":23.5},
{"c":0,"r":27,"m":23.8},{"c":1,"r":27,"m":24.2},{"c":2,"r":27,"m":24.4},{"c":3,"r":27,"m":24.55},{"c":4,"r":27,"m":24.55},{"c":5,"r":27,"m":24.55},{"c":6,"r":27,"m":24.55},{"c":7,"r":27,"m":24.5},{"c":8,"r":27,"m":24.55},{"c":9,"r":27,"m":24.55},{"c":10,"r":27,"m":24.55},{"c":11,"r":27,"m":24.45},{"c":12,"r":27,"m":24.55},{"c":13,"r":27,"m":24.5},{"c":14,"r":27,"m":24.55},{"c":15,"r":27,"m":24.7},{"c":16,"r":27,"m":24.68},{"c":17,"r":27,"m":24.6},{"c":18,"r":27,"m":24.55},{"c":19,"r":27,"m":24.55},{"c":20,"r":27,"m":24.55},{"c":21,"r":27,"m":24.55},{"c":22,"r":27,"m":24.55},{"c":23,"r":27,"m":24.55},{"c":24,"r":27,"m":24.6},{"c":25,"r":27,"m":24.6},{"c":26,"r":27,"m":24.55},{"c":27,"r":27,"m":24.6},{"c":28,"r":27,"m":24.6},{"c":29,"r":27,"m":24.55},{"c":30,"r":27,"m":24.5},{"c":31,"r":27,"m":24.55},{"c":32,"r":27,"m":24.55},{"c":33,"r":27,"m":24.55},{"c":34,"r":27,"m":24.6},{"c":35,"r":27,"m":24.6},{"c":36,"r":27,"m":24.55},{"c":37,"r":27,"m":24.55},{"c":38,"r":27,"m":24.55},{"c":39,"r":27,"m":24.55},{"c":40,"r":27,"m":24.5},{"c":41,"r":27,"m":24.5},{"c":42,"r":27,"m":24.45},{"c":43,"r":27,"m":24.45},{"c":44,"r":27,"m":24.45},{"c":45,"r":27,"m":24.25},
{"c":0,"r":28,"m":23.7},{"c":1,"r":28,"m":24.2},{"c":2,"r":28,"m":24.35},{"c":3,"r":28,"m":24.5},{"c":4,"r":28,"m":24.5},{"c":5,"r":28,"m":24.55},{"c":6,"r":28,"m":24.55},{"c":7,"r":28,"m":24.55},{"c":8,"r":28,"m":24.55},{"c":9,"r":28,"m":24.55},{"c":10,"r":28,"m":24.55},{"c":11,"r":28,"m":24.45},{"c":12,"r":28,"m":24.5},{"c":13,"r":28,"m":24.5},{"c":14,"r":28,"m":24.55},{"c":15,"r":28,"m":24.68},{"c":16,"r":28,"m":24.68},{"c":17,"r":28,"m":24.6},{"c":18,"r":28,"m":24.55},{"c":19,"r":28,"m":24.55},{"c":20,"r":28,"m":24.55},{"c":21,"r":28,"m":24.55},{"c":22,"r":28,"m":24.55},{"c":23,"r":28,"m":24.55},{"c":24,"r":28,"m":24.55},{"c":25,"r":28,"m":24.5},{"c":26,"r":28,"m":24.55},{"c":27,"r":28,"m":24.62},{"c":28,"r":28,"m":24.65},{"c":29,"r":28,"m":24.55},{"c":30,"r":28,"m":24.55},{"c":31,"r":28,"m":24.6},{"c":32,"r":28,"m":24.6},{"c":33,"r":28,"m":24.6},{"c":34,"r":28,"m":24.55},{"c":35,"r":28,"m":24.45},{"c":36,"r":28,"m":24.55},{"c":37,"r":28,"m":24.55},{"c":38,"r":28,"m":24.55},{"c":39,"r":28,"m":24.55},{"c":40,"r":28,"m":24.55},{"c":41,"r":28,"m":24.45},{"c":42,"r":28,"m":24.45},{"c":43,"r":28,"m":24.5},{"c":44,"r":28,"m":24.4},{"c":45,"r":28,"m":24.15},
{"c":0,"r":29,"m":23.55},{"c":1,"r":29,"m":24.2},{"c":2,"r":29,"m":24.35},{"c":3,"r":29,"m":24.5},{"c":4,"r":29,"m":24.6},{"c":5,"r":29,"m":24.55},{"c":6,"r":29,"m":24.5},{"c":7,"r":29,"m":24.5},{"c":8,"r":29,"m":24.5},{"c":9,"r":29,"m":24.55},{"c":10,"r":29,"m":24.55},{"c":11,"r":29,"m":24.5},{"c":12,"r":29,"m":24.5},{"c":13,"r":29,"m":24.5},{"c":14,"r":29,"m":24.55},{"c":15,"r":29,"m":24.6},{"c":16,"r":29,"m":24.6},{"c":17,"r":29,"m":24.6},{"c":18,"r":29,"m":24.6},{"c":19,"r":29,"m":24.6},{"c":20,"r":29,"m":24.55},{"c":21,"r":29,"m":24.55},{"c":22,"r":29,"m":24.55},{"c":23,"r":29,"m":24.6},{"c":24,"r":29,"m":24.55},{"c":25,"r":29,"m":24.6},{"c":26,"r":29,"m":24.62},{"c":27,"r":29,"m":24.66},{"c":28,"r":29,"m":24.6},{"c":29,"r":29,"m":24.6},{"c":30,"r":29,"m":24.65},{"c":31,"r":29,"m":24.62},{"c":32,"r":29,"m":24.6},{"c":33,"r":29,"m":24.55},{"c":34,"r":29,"m":24.55},{"c":35,"r":29,"m":24.6},{"c":36,"r":29,"m":24.55},{"c":37,"r":29,"m":24.55},{"c":38,"r":29,"m":24.5},{"c":39,"r":29,"m":24.5},{"c":40,"r":29,"m":24.5},{"c":41,"r":29,"m":24.5},{"c":42,"r":29,"m":24.45},{"c":43,"r":29,"m":24.4},{"c":44,"r":29,"m":24.2},{"c":45,"r":29,"m":23.85},
{"c":0,"r":30,"m":23.35},{"c":1,"r":30,"m":23.95},{"c":2,"r":30,"m":24.25},{"c":3,"r":30,"m":24.45},{"c":4,"r":30,"m":24.6},{"c":5,"r":30,"m":24.55},{"c":6,"r":30,"m":24.5},{"c":7,"r":30,"m":24.5},{"c":8,"r":30,"m":24.5},{"c":9,"r":30,"m":24.5},{"c":10,"r":30,"m":24.55},{"c":11,"r":30,"m":24.55},{"c":12,"r":30,"m":24.5},{"c":13,"r":30,"m":24.5},{"c":14,"r":30,"m":24.55},{"c":15,"r":30,"m":24.5},{"c":16,"r":30,"m":24.6},{"c":17,"r":30,"m":24.6},{"c":18,"r":30,"m":24.6},{"c":19,"r":30,"m":24.62},{"c":20,"r":30,"m":24.62},{"c":21,"r":30,"m":24.6},{"c":22,"r":30,"m":24.6},{"c":23,"r":30,"m":24.65},{"c":24,"r":30,"m":24.62},{"c":25,"r":30,"m":24.68},{"c":26,"r":30,"m":24.65},{"c":27,"r":30,"m":24.65},{"c":28,"r":30,"m":24.6},{"c":29,"r":30,"m":24.6},{"c":30,"r":30,"m":24.6},{"c":31,"r":30,"m":24.6},{"c":32,"r":30,"m":24.6},{"c":33,"r":30,"m":24.6},{"c":34,"r":30,"m":24.55},{"c":35,"r":30,"m":24.55},{"c":36,"r":30,"m":24.55},{"c":37,"r":30,"m":24.5},{"c":38,"r":30,"m":24.5},{"c":39,"r":30,"m":24.55},{"c":40,"r":30,"m":24.55},{"c":41,"r":30,"m":24.55},{"c":42,"r":30,"m":24.5},{"c":43,"r":30,"m":24.4},{"c":44,"r":30,"m":24.2},{"c":45,"r":30,"m":23.45},
{"c":0,"r":31,"m":23.2},{"c":1,"r":31,"m":23.7},{"c":2,"r":31,"m":24.1},{"c":3,"r":31,"m":24.35},{"c":4,"r":31,"m":24.5},{"c":5,"r":31,"m":24.5},{"c":6,"r":31,"m":24.5},{"c":7,"r":31,"m":24.5},{"c":8,"r":31,"m":24.5},{"c":9,"r":31,"m":24.5},{"c":10,"r":31,"m":24.5},{"c":11,"r":31,"m":24.55},{"c":12,"r":31,"m":24.62},{"c":13,"r":31,"m":24.55},{"c":14,"r":31,"m":24.55},{"c":15,"r":31,"m":24.55},{"c":16,"r":31,"m":24.6},{"c":17,"r":31,"m":24.68},{"c":18,"r":31,"m":24.7},{"c":19,"r":31,"m":24.72},{"c":20,"r":31,"m":24.72},{"c":21,"r":31,"m":24.68},{"c":22,"r":31,"m":24.65},{"c":23,"r":31,"m":24.62},{"c":24,"r":31,"m":24.68},{"c":25,"r":31,"m":24.68},{"c":26,"r":31,"m":24.65},{"c":27,"r":31,"m":24.65},{"c":28,"r":31,"m":24.65},{"c":29,"r":31,"m":24.68},{"c":30,"r":31,"m":24.62},{"c":31,"r":31,"m":24.62},{"c":32,"r":31,"m":24.62},{"c":33,"r":31,"m":24.62},{"c":34,"r":31,"m":24.62},{"c":35,"r":31,"m":24.62},{"c":36,"r":31,"m":24.5},{"c":37,"r":31,"m":24.5},{"c":38,"r":31,"m":24.5},{"c":39,"r":31,"m":24.55},{"c":40,"r":31,"m":24.55},{"c":41,"r":31,"m":24.5},{"c":42,"r":31,"m":24.4},{"c":43,"r":31,"m":24.3},{"c":44,"r":31,"m":24.0},
{"c":0,"r":32,"m":22.95},{"c":1,"r":32,"m":23.45},{"c":2,"r":32,"m":23.95},{"c":3,"r":32,"m":24.2},{"c":4,"r":32,"m":24.4},{"c":5,"r":32,"m":24.5},{"c":6,"r":32,"m":24.5},{"c":7,"r":32,"m":24.5},{"c":8,"r":32,"m":24.5},{"c":9,"r":32,"m":24.5},{"c":10,"r":32,"m":24.55},{"c":11,"r":32,"m":24.6},{"c":12,"r":32,"m":24.62},{"c":13,"r":32,"m":24.55},{"c":14,"r":32,"m":24.55},{"c":15,"r":32,"m":24.55},{"c":16,"r":32,"m":24.55},{"c":17,"r":32,"m":24.65},{"c":18,"r":32,"m":24.68},{"c":19,"r":32,"m":24.72},{"c":20,"r":32,"m":24.74},{"c":21,"r":32,"m":24.7},{"c":22,"r":32,"m":24.65},{"c":23,"r":32,"m":24.62},{"c":24,"r":32,"m":24.68},{"c":25,"r":32,"m":24.68},{"c":26,"r":32,"m":24.6},{"c":27,"r":32,"m":24.6},{"c":28,"r":32,"m":24.6},{"c":29,"r":32,"m":24.65},{"c":30,"r":32,"m":24.62},{"c":31,"r":32,"m":24.62},{"c":32,"r":32,"m":24.62},{"c":33,"r":32,"m":24.62},{"c":34,"r":32,"m":24.62},{"c":35,"r":32,"m":24.62},{"c":36,"r":32,"m":24.5},{"c":37,"r":32,"m":24.5},{"c":38,"r":32,"m":24.45},{"c":39,"r":32,"m":24.5},{"c":40,"r":32,"m":24.55},{"c":41,"r":32,"m":24.5},{"c":42,"r":32,"m":24.4},{"c":43,"r":32,"m":24.2},{"c":44,"r":32,"m":23.8},
{"c":0,"r":33,"m":22.85},{"c":1,"r":33,"m":23.25},{"c":2,"r":33,"m":23.8},{"c":3,"r":33,"m":24.15},{"c":4,"r":33,"m":24.3},{"c":5,"r":33,"m":24.5},{"c":6,"r":33,"m":24.55},{"c":7,"r":33,"m":24.55},{"c":8,"r":33,"m":24.55},{"c":9,"r":33,"m":24.55},{"c":10,"r":33,"m":24.55},{"c":11,"r":33,"m":24.6},{"c":12,"r":33,"m":24.6},{"c":13,"r":33,"m":24.55},{"c":14,"r":33,"m":24.55},{"c":15,"r":33,"m":24.55},{"c":16,"r":33,"m":24.5},{"c":17,"r":33,"m":24.55},{"c":18,"r":33,"m":24.6},{"c":19,"r":33,"m":24.7},{"c":20,"r":33,"m":24.72},{"c":21,"r":33,"m":24.68},{"c":22,"r":33,"m":24.65},{"c":23,"r":33,"m":24.6},{"c":24,"r":33,"m":24.72},{"c":25,"r":33,"m":24.7},{"c":26,"r":33,"m":24.6},{"c":27,"r":33,"m":24.55},{"c":28,"r":33,"m":24.55},{"c":29,"r":33,"m":24.55},{"c":30,"r":33,"m":24.62},{"c":31,"r":33,"m":24.62},{"c":32,"r":33,"m":24.6},{"c":33,"r":33,"m":24.62},{"c":34,"r":33,"m":24.62},{"c":35,"r":33,"m":24.6},{"c":36,"r":33,"m":24.5},{"c":37,"r":33,"m":24.5},{"c":38,"r":33,"m":24.45},{"c":39,"r":33,"m":24.45},{"c":40,"r":33,"m":24.55},{"c":41,"r":33,"m":24.5},{"c":42,"r":33,"m":24.4},{"c":43,"r":33,"m":24.05},{"c":44,"r":33,"m":23.65},
{"c":0,"r":34,"m":22.55},{"c":1,"r":34,"m":23.0},{"c":2,"r":34,"m":23.55},{"c":3,"r":34,"m":24.0},{"c":4,"r":34,"m":24.2},{"c":5,"r":34,"m":24.4},{"c":6,"r":34,"m":24.55},{"c":7,"r":34,"m":24.55},{"c":8,"r":34,"m":24.55},{"c":9,"r":34,"m":24.55},{"c":10,"r":34,"m":24.55},{"c":11,"r":34,"m":24.55},{"c":12,"r":34,"m":24.55},{"c":13,"r":34,"m":24.55},{"c":14,"r":34,"m":24.55},{"c":15,"r":34,"m":24.55},{"c":16,"r":34,"m":24.55},{"c":17,"r":34,"m":24.55},{"c":18,"r":34,"m":24.5},{"c":19,"r":34,"m":24.68},{"c":20,"r":34,"m":24.7},{"c":21,"r":34,"m":24.68},{"c":22,"r":34,"m":24.65},{"c":23,"r":34,"m":24.6},{"c":24,"r":34,"m":24.72},{"c":25,"r":34,"m":24.7},{"c":26,"r":34,"m":24.55},{"c":27,"r":34,"m":24.55},{"c":28,"r":34,"m":24.55},{"c":29,"r":34,"m":24.55},{"c":30,"r":34,"m":24.55},{"c":31,"r":34,"m":24.55},{"c":32,"r":34,"m":24.55},{"c":33,"r":34,"m":24.6},{"c":34,"r":34,"m":24.6},{"c":35,"r":34,"m":24.55},{"c":36,"r":34,"m":24.5},{"c":37,"r":34,"m":24.45},{"c":38,"r":34,"m":24.5},{"c":39,"r":34,"m":24.5},{"c":40,"r":34,"m":24.5},{"c":41,"r":34,"m":24.5},{"c":42,"r":34,"m":24.35},{"c":43,"r":34,"m":23.9},{"c":44,"r":34,"m":23.4},
{"c":1,"r":35,"m":22.6},{"c":2,"r":35,"m":23.05},{"c":3,"r":35,"m":23.8},{"c":4,"r":35,"m":24.05},{"c":5,"r":35,"m":24.2},{"c":6,"r":35,"m":24.4},{"c":7,"r":35,"m":24.5},{"c":8,"r":35,"m":24.5},{"c":9,"r":35,"m":24.55},{"c":10,"r":35,"m":24.5},{"c":11,"r":35,"m":24.45},{"c":12,"r":35,"m":24.55},{"c":13,"r":35,"m":24.55},{"c":14,"r":35,"m":24.55},{"c":15,"r":35,"m":24.55},{"c":16,"r":35,"m":24.55},{"c":17,"r":35,"m":24.6},{"c":18,"r":35,"m":24.55},{"c":19,"r":35,"m":24.65},{"c":20,"r":35,"m":24.65},{"c":21,"r":35,"m":24.65},{"c":22,"r":35,"m":24.65},{"c":23,"r":35,"m":24.6},{"c":24,"r":35,"m":24.6},{"c":25,"r":35,"m":24.55},{"c":26,"r":35,"m":24.55},{"c":27,"r":35,"m":24.55},{"c":28,"r":35,"m":24.55},{"c":29,"r":35,"m":24.55},{"c":30,"r":35,"m":24.55},{"c":31,"r":35,"m":24.55},{"c":32,"r":35,"m":24.55},{"c":33,"r":35,"m":24.55},{"c":34,"r":35,"m":24.55},{"c":35,"r":35,"m":24.5},{"c":36,"r":35,"m":24.5},{"c":37,"r":35,"m":24.5},{"c":38,"r":35,"m":24.5},{"c":39,"r":35,"m":24.5},{"c":40,"r":35,"m":24.5},{"c":41,"r":35,"m":24.45},{"c":42,"r":35,"m":24.2},{"c":43,"r":35,"m":23.7},
{"c":2,"r":36,"m":22.6},{"c":3,"r":36,"m":23.05},{"c":4,"r":36,"m":23.7},{"c":5,"r":36,"m":23.95},{"c":6,"r":36,"m":24.3},{"c":7,"r":36,"m":24.4},{"c":8,"r":36,"m":24.6},{"c":9,"r":36,"m":24.5},{"c":10,"r":36,"m":24.5},{"c":11,"r":36,"m":24.5},{"c":12,"r":36,"m":24.55},{"c":13,"r":36,"m":24.55},{"c":14,"r":36,"m":24.6},{"c":15,"r":36,"m":24.55},{"c":16,"r":36,"m":24.55},{"c":17,"r":36,"m":24.55},{"c":18,"r":36,"m":24.55},{"c":19,"r":36,"m":24.62},{"c":20,"r":36,"m":24.62},{"c":21,"r":36,"m":24.62},{"c":22,"r":36,"m":24.62},{"c":23,"r":36,"m":24.55},{"c":24,"r":36,"m":24.55},{"c":25,"r":36,"m":24.55},{"c":26,"r":36,"m":24.55},{"c":27,"r":36,"m":24.5},{"c":28,"r":36,"m":24.5},{"c":29,"r":36,"m":24.5},{"c":30,"r":36,"m":24.5},{"c":31,"r":36,"m":24.5},{"c":32,"r":36,"m":24.5},{"c":33,"r":36,"m":24.5},{"c":34,"r":36,"m":24.5},{"c":35,"r":36,"m":24.55},{"c":36,"r":36,"m":24.5},{"c":37,"r":36,"m":24.5},{"c":38,"r":36,"m":24.6},{"c":39,"r":36,"m":24.5},{"c":40,"r":36,"m":24.5},{"c":41,"r":36,"m":24.3},{"c":42,"r":36,"m":24.0},{"c":43,"r":36,"m":23.5},
{"c":3,"r":37,"m":22.55},{"c":4,"r":37,"m":23.0},{"c":5,"r":37,"m":23.5},{"c":6,"r":37,"m":24.15},{"c":7,"r":37,"m":24.35},{"c":8,"r":37,"m":24.5},{"c":9,"r":37,"m":24.5},{"c":10,"r":37,"m":24.5},{"c":11,"r":37,"m":24.5},{"c":12,"r":37,"m":24.5},{"c":13,"r":37,"m":24.5},{"c":14,"r":37,"m":24.65},{"c":15,"r":37,"m":24.6},{"c":16,"r":37,"m":24.55},{"c":17,"r":37,"m":24.55},{"c":18,"r":37,"m":24.6},{"c":19,"r":37,"m":24.62},{"c":20,"r":37,"m":24.65},{"c":21,"r":37,"m":24.65},{"c":22,"r":37,"m":24.55},{"c":23,"r":37,"m":24.55},{"c":24,"r":37,"m":24.55},{"c":25,"r":37,"m":24.65},{"c":26,"r":37,"m":24.55},{"c":27,"r":37,"m":24.55},{"c":28,"r":37,"m":24.5},{"c":29,"r":37,"m":24.5},{"c":30,"r":37,"m":24.5},{"c":31,"r":37,"m":24.5},{"c":32,"r":37,"m":24.5},{"c":33,"r":37,"m":24.5},{"c":34,"r":37,"m":24.5},{"c":35,"r":37,"m":24.5},{"c":36,"r":37,"m":24.5},{"c":37,"r":37,"m":24.5},{"c":38,"r":37,"m":24.45},{"c":39,"r":37,"m":24.4},{"c":40,"r":37,"m":24.35},{"c":41,"r":37,"m":24.3},{"c":42,"r":37,"m":23.8},{"c":43,"r":37,"m":23.05},
{"c":4,"r":38,"m":22.55},{"c":5,"r":38,"m":23.0},{"c":6,"r":38,"m":24.05},{"c":7,"r":38,"m":24.1},{"c":8,"r":38,"m":24.25},{"c":9,"r":38,"m":24.4},{"c":10,"r":38,"m":24.5},{"c":11,"r":38,"m":24.5},{"c":12,"r":38,"m":24.5},{"c":13,"r":38,"m":24.5},{"c":14,"r":38,"m":24.65},{"c":15,"r":38,"m":24.6},{"c":16,"r":38,"m":24.55},{"c":17,"r":38,"m":24.6},{"c":18,"r":38,"m":24.6},{"c":19,"r":38,"m":24.6},{"c":20,"r":38,"m":24.62},{"c":21,"r":38,"m":24.6},{"c":22,"r":38,"m":24.55},{"c":23,"r":38,"m":24.55},{"c":24,"r":38,"m":24.55},{"c":25,"r":38,"m":24.55},{"c":26,"r":38,"m":24.55},{"c":27,"r":38,"m":24.5},{"c":28,"r":38,"m":24.5},{"c":29,"r":38,"m":24.5},{"c":30,"r":38,"m":24.5},{"c":31,"r":38,"m":24.5},{"c":32,"r":38,"m":24.5},{"c":33,"r":38,"m":24.5},{"c":34,"r":38,"m":24.5},{"c":35,"r":38,"m":24.5},{"c":36,"r":38,"m":24.45},{"c":37,"r":38,"m":24.4},{"c":38,"r":38,"m":24.3},{"c":39,"r":38,"m":24.2},{"c":40,"r":38,"m":24.1},{"c":41,"r":38,"m":23.95},{"c":42,"r":38,"m":23.65},{"c":43,"r":38,"m":22.65},
{"c":5,"r":39,"m":22.6},{"c":6,"r":39,"m":23.4},{"c":7,"r":39,"m":23.85},{"c":8,"r":39,"m":24.1},{"c":9,"r":39,"m":24.3},{"c":10,"r":39,"m":24.4},{"c":11,"r":39,"m":24.45},{"c":12,"r":39,"m":24.4},{"c":13,"r":39,"m":24.45},{"c":14,"r":39,"m":24.55},{"c":15,"r":39,"m":24.6},{"c":16,"r":39,"m":24.6},{"c":17,"r":39,"m":24.6},{"c":18,"r":39,"m":24.6},{"c":19,"r":39,"m":24.55},{"c":20,"r":39,"m":24.55},{"c":21,"r":39,"m":24.5},{"c":22,"r":39,"m":24.5},{"c":23,"r":39,"m":24.5},{"c":24,"r":39,"m":24.45},{"c":25,"r":39,"m":24.5},{"c":26,"r":39,"m":24.5},{"c":27,"r":39,"m":24.5},{"c":28,"r":39,"m":24.5},{"c":29,"r":39,"m":24.5},{"c":30,"r":39,"m":24.5},{"c":31,"r":39,"m":24.5},{"c":32,"r":39,"m":24.5},{"c":33,"r":39,"m":24.5},{"c":34,"r":39,"m":24.5},{"c":35,"r":39,"m":24.5},{"c":36,"r":39,"m":24.5},{"c":37,"r":39,"m":24.45},{"c":38,"r":39,"m":24.2},{"c":39,"r":39,"m":24.1},{"c":40,"r":39,"m":23.95},{"c":41,"r":39,"m":23.8},
{"c":6,"r":40,"m":22.65},{"c":7,"r":40,"m":23.5},{"c":8,"r":40,"m":23.95},{"c":9,"r":40,"m":24.2},{"c":10,"r":40,"m":24.35},{"c":11,"r":40,"m":24.4},{"c":12,"r":40,"m":24.35},{"c":13,"r":40,"m":24.35},{"c":14,"r":40,"m":24.55},{"c":15,"r":40,"m":24.62},{"c":16,"r":40,"m":24.6},{"c":17,"r":40,"m":24.6},{"c":18,"r":40,"m":24.6},{"c":19,"r":40,"m":24.55},{"c":20,"r":40,"m":24.55},{"c":21,"r":40,"m":24.5},{"c":22,"r":40,"m":24.5},{"c":23,"r":40,"m":24.45},{"c":24,"r":40,"m":24.45},{"c":25,"r":40,"m":24.5},{"c":26,"r":40,"m":24.5},{"c":27,"r":40,"m":24.5},{"c":28,"r":40,"m":24.5},{"c":29,"r":40,"m":24.45},{"c":30,"r":40,"m":24.5},{"c":31,"r":40,"m":24.5},{"c":32,"r":40,"m":24.5},{"c":33,"r":40,"m":24.5},{"c":34,"r":40,"m":24.45},{"c":35,"r":40,"m":24.55},{"c":36,"r":40,"m":24.45},{"c":37,"r":40,"m":24.25},{"c":38,"r":40,"m":24.0},{"c":39,"r":40,"m":23.85},{"c":40,"r":40,"m":23.55},
{"c":7,"r":41,"m":22.85},{"c":8,"r":41,"m":23.5},{"c":9,"r":41,"m":23.75},{"c":10,"r":41,"m":24.05},{"c":11,"r":41,"m":24.25},{"c":12,"r":41,"m":24.0},{"c":13,"r":41,"m":24.3},{"c":14,"r":41,"m":24.5},{"c":15,"r":41,"m":24.6},{"c":16,"r":41,"m":24.6},{"c":17,"r":41,"m":24.6},{"c":18,"r":41,"m":24.55},{"c":19,"r":41,"m":24.55},{"c":20,"r":41,"m":24.55},{"c":21,"r":41,"m":24.5},{"c":22,"r":41,"m":24.5},{"c":23,"r":41,"m":24.45},{"c":24,"r":41,"m":24.45},{"c":25,"r":41,"m":24.5},{"c":26,"r":41,"m":24.5},{"c":27,"r":41,"m":24.5},{"c":28,"r":41,"m":24.5},{"c":29,"r":41,"m":24.4},{"c":30,"r":41,"m":24.4},{"c":31,"r":41,"m":24.6},{"c":32,"r":41,"m":24.45},{"c":33,"r":41,"m":24.45},{"c":34,"r":41,"m":24.4},{"c":35,"r":41,"m":24.25},{"c":36,"r":41,"m":24.0},{"c":37,"r":41,"m":23.85},{"c":38,"r":41,"m":23.5},{"c":39,"r":41,"m":23.3},
{"c":8,"r":42,"m":22.85},{"c":9,"r":42,"m":23.1},{"c":10,"r":42,"m":23.5},{"c":11,"r":42,"m":23.8},{"c":12,"r":42,"m":24.1},{"c":13,"r":42,"m":24.3},{"c":14,"r":42,"m":24.55},{"c":15,"r":42,"m":24.55},{"c":16,"r":42,"m":24.55},{"c":17,"r":42,"m":24.6},{"c":18,"r":42,"m":24.55},{"c":19,"r":42,"m":24.5},{"c":20,"r":42,"m":24.5},{"c":21,"r":42,"m":24.45},{"c":22,"r":42,"m":24.45},{"c":23,"r":42,"m":24.45},{"c":24,"r":42,"m":24.5},{"c":25,"r":42,"m":24.5},{"c":26,"r":42,"m":24.5},{"c":27,"r":42,"m":24.55},{"c":28,"r":42,"m":24.5},{"c":29,"r":42,"m":24.45},{"c":30,"r":42,"m":24.4},{"c":31,"r":42,"m":24.6},{"c":32,"r":42,"m":24.4},{"c":33,"r":42,"m":24.4},{"c":34,"r":42,"m":24.35},{"c":35,"r":42,"m":24.2},{"c":36,"r":42,"m":23.1},{"c":37,"r":42,"m":23.1},{"c":38,"r":42,"m":22.95},
{"c":9,"r":43,"m":22.6},{"c":10,"r":43,"m":22.9},{"c":11,"r":43,"m":23.3},{"c":12,"r":43,"m":23.85},{"c":13,"r":43,"m":24.1},{"c":14,"r":43,"m":24.3},{"c":15,"r":43,"m":24.4},{"c":16,"r":43,"m":24.4},{"c":17,"r":43,"m":24.4},{"c":18,"r":43,"m":24.55},{"c":19,"r":43,"m":24.4},{"c":20,"r":43,"m":24.35},{"c":21,"r":43,"m":24.35},{"c":22,"r":43,"m":24.35},{"c":23,"r":43,"m":24.4},{"c":24,"r":43,"m":24.5},{"c":25,"r":43,"m":24.5},{"c":26,"r":43,"m":24.5},{"c":27,"r":43,"m":24.6},{"c":28,"r":43,"m":24.5},{"c":29,"r":43,"m":24.4},{"c":30,"r":43,"m":24.35},{"c":31,"r":43,"m":24.3},{"c":32,"r":43,"m":24.3},{"c":33,"r":43,"m":24.2},{"c":34,"r":43,"m":24.1},{"c":35,"r":43,"m":23.85},{"c":36,"r":43,"m":23.05},{"c":37,"r":43,"m":22.7},
{"c":11,"r":44,"m":22.7},{"c":12,"r":44,"m":23.05},{"c":13,"r":44,"m":23.7},{"c":14,"r":44,"m":24.1},{"c":15,"r":44,"m":24.2},{"c":16,"r":44,"m":24.2},{"c":17,"r":44,"m":24.15},{"c":18,"r":44,"m":24.2},{"c":19,"r":44,"m":24.4},{"c":20,"r":44,"m":24.3},{"c":21,"r":44,"m":24.3},{"c":22,"r":44,"m":24.3},{"c":23,"r":44,"m":24.4},{"c":24,"r":44,"m":24.5},{"c":25,"r":44,"m":24.35},{"c":26,"r":44,"m":24.3},{"c":27,"r":44,"m":24.3},{"c":28,"r":44,"m":24.3},{"c":29,"r":44,"m":24.25},{"c":30,"r":44,"m":24.15},{"c":31,"r":44,"m":24.15},{"c":32,"r":44,"m":24.15},{"c":33,"r":44,"m":24.0},{"c":34,"r":44,"m":23.85},{"c":35,"r":44,"m":23.35},{"c":36,"r":44,"m":22.65},
{"c":13,"r":45,"m":22.55},{"c":14,"r":45,"m":22.9},{"c":15,"r":45,"m":23.35},{"c":16,"r":45,"m":23.55},{"c":17,"r":45,"m":23.45},{"c":18,"r":45,"m":23.65},{"c":19,"r":45,"m":24.0},{"c":20,"r":45,"m":24.2},{"c":21,"r":45,"m":24.2},{"c":22,"r":45,"m":24.25},{"c":23,"r":45,"m":24.25},{"c":24,"r":45,"m":24.25},{"c":25,"r":45,"m":24.2},{"c":26,"r":45,"m":24.2},{"c":27,"r":45,"m":24.2},{"c":28,"r":45,"m":24.2},{"c":29,"r":45,"m":24.15},{"c":30,"r":45,"m":23.95},{"c":31,"r":45,"m":24.05},{"c":32,"r":45,"m":23.9},{"c":33,"r":45,"m":23.65},{"c":34,"r":45,"m":23.3},{"c":35,"r":45,"m":22.8},
{"c":16,"r":46,"m":22.7},{"c":17,"r":46,"m":22.85},{"c":18,"r":46,"m":23.05},{"c":19,"r":46,"m":23.35},{"c":20,"r":46,"m":23.65},{"c":21,"r":46,"m":23.9},{"c":22,"r":46,"m":24.1},{"c":23,"r":46,"m":24.15},{"c":24,"r":46,"m":24.1},{"c":25,"r":46,"m":24.1},{"c":26,"r":46,"m":24.05},{"c":27,"r":46,"m":23.95},{"c":28,"r":46,"m":23.85},{"c":29,"r":46,"m":23.75},{"c":30,"r":46,"m":23.5},{"c":31,"r":46,"m":23.6},{"c":32,"r":46,"m":23.3},{"c":33,"r":46,"m":23.1},{"c":34,"r":46,"m":22.75},
{"c":22,"r":47,"m":22.6},{"c":23,"r":47,"m":22.75},{"c":24,"r":47,"m":22.9},{"c":25,"r":47,"m":23.1},{"c":26,"r":47,"m":23.25},{"c":27,"r":47,"m":23.35},{"c":28,"r":47,"m":23.25},{"c":29,"r":47,"m":23.2},{"c":30,"r":47,"m":23.05},{"c":31,"r":47,"m":22.9}
]},"hconcat":[{"width":496,"height":480,"resolve":{"axis":{"x":"independent","y":"independent"}},"layer":[{"data":{"name":"cells"},"transform":[{"lookup":"c","from":{"data":{"name":"cols"},"key":"c","fields":["x"]}},{"lookup":"r","from":{"data":{"name":"rows"},"key":"r","fields":["y"]}}],"mark":{"type":"rect","width":10.5,"height":10.2,"clip":true},"encoding":{"x":{"field":"x","type":"quantitative","scale":{"domain":[132.827,128.385],"nice":false,"zero":false},"axis":{"values":[132,131,130,129],"format":"d","title":null,"tickSize":-5.5,"labelPadding":9,"zindex":1}},"y":{"field":"y","type":"quantitative","scale":{"domain":[42.673,45.92],"nice":false,"zero":false},"axis":{"values":[43,43.5,44,44.5,45,45.5],"format":".1f","title":null,"tickSize":-5.5,"labelPadding":15,"zindex":1}},"color":{"field":"m","type":"quantitative","legend":null,"scale":{"interpolate":"rgb","domain":[22.5,22.885,22.9375,23.69,23.725,23.78,24.71,24.775,24.81,25.615,25.685,26],"range":["#000080","#0000ff","#0000ff","#00dbff","#00e5f8","#19ffe6","#e6ff08","#f2fa00","#fff500","#ff1700","#f20000","#800000"]}}}},{"data":{"values":[{"x":131,"y":44}]},"mark":{"type":"point","opacity":0},"encoding":{"x":{"field":"x","type":"quantitative","scale":{"domain":[132.827,128.385],"nice":false,"zero":false},"axis":{"orient":"top","values":[132,131,130,129],"labels":false,"title":null,"tickSize":-5.5,"zindex":1}},"y":{"field":"y","type":"quantitative","scale":{"domain":[42.673,45.92],"nice":false,"zero":false},"axis":{"orient":"right","values":[43,43.5,44,44.5,45,45.5],"labels":false,"title":null,"tickSize":-5.5,"zindex":1}}}}]},{"width":17.6,"height":384,"layer":[{"data":{"values":[{"a":0,"b":1,"lo":22.5,"hi":26}]},"mark":{"type":"rect","color":{"gradient":"linear","x1":0,"y1":1,"x2":0,"y2":0,"stops":[{"offset":0,"color":"#000080"},{"offset":0.11,"color":"#0000ff"},{"offset":0.125,"color":"#0000ff"},{"offset":0.34,"color":"#00dbff"},{"offset":0.35,"color":"#00e5f8"},{"offset":0.375,"color":"#19ffe6"},{"offset":0.64,"color":"#e6ff08"},{"offset":0.65,"color":"#f2fa00"},{"offset":0.66,"color":"#fff500"},{"offset":0.89,"color":"#ff1700"},{"offset":0.91,"color":"#f20000"},{"offset":1,"color":"#800000"}]}},"encoding":{"x":{"field":"a","type":"quantitative","scale":{"domain":[0,1]},"axis":null},"x2":{"field":"b"},"y":{"field":"lo","type":"quantitative","scale":{"domain":[22.325,26.175],"nice":false,"zero":false},"axis":{"orient":"right","values":[22.8,23.2,23.6,24,24.4,24.8,25.2,25.6,26],"format":".1f","labelFontSize":18,"title":"Magnitude of sources at 5-sigma","titleAngle":-90,"titleFontSize":19.3,"titleFontWeight":"normal","titlePadding":25,"domain":false,"tickSize":-4,"labelPadding":8,"zindex":1}},"y2":{"field":"hi"}}},{"data":{"values":[{"v":26,"a":0,"b":1},{"v":26.175,"a":0.5,"b":0.5}]},"mark":{"type":"area","orient":"horizontal","color":"#800000"},"encoding":{"y":{"field":"v","type":"quantitative"},"x":{"field":"a","type":"quantitative"},"x2":{"field":"b"}}},{"data":{"values":[{"v":22.5,"a":0,"b":1},{"v":22.325,"a":0.5,"b":0.5}]},"mark":{"type":"area","orient":"horizontal","color":"#000080"},"encoding":{"y":{"field":"v","type":"quantitative"},"x":{"field":"a","type":"quantitative"},"x2":{"field":"b"}}},{"data":{"values":[{"o":0,"a":0,"v":22.5},{"o":1,"a":0.5,"v":22.325},{"o":2,"a":1,"v":22.5},{"o":3,"a":1,"v":26},{"o":4,"a":0.5,"v":26.175},{"o":5,"a":0,"v":26},{"o":6,"a":0,"v":22.5}]},"mark":{"type":"line","color":"black","strokeWidth":1},"encoding":{"x":{"field":"a","type":"quantitative"},"y":{"field":"v","type":"quantitative"},"order":{"field":"o"}}}]}]}
